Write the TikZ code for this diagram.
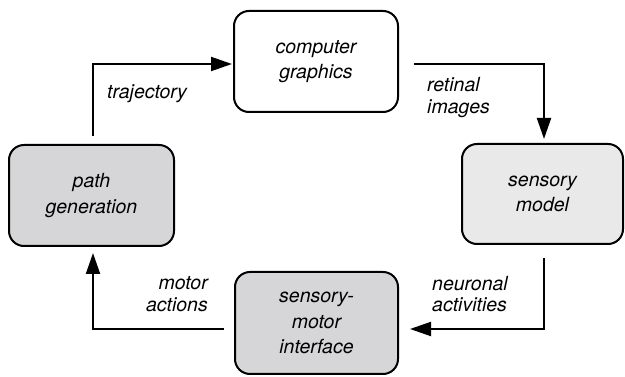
\documentclass[tikz,border=0pt]{standalone}
\usepackage{fontspec}
\setmainfont{TeX Gyre Heros}
\usetikzlibrary{arrows.meta,calc}
\definecolor{boxgray}{HTML}{D6D6D8}
\definecolor{boxlight}{HTML}{E9E9EA}
\tikzset{
  blockbox/.style={draw=black, line width=2pt, rounded corners=15pt, align=center,
    font=\fontsize{19.5}{25.5}\selectfont\itshape, inner sep=0pt},
  flow/.style={draw=black, line width=2pt, -{Triangle[length=21pt,width=14pt]}},
  lbl/.style={font=\fontsize{19.5}{21.5}\selectfont\itshape, inner sep=0pt},
}
\begin{document}
\begin{tikzpicture}[x=1pt,y=-1pt]
\useasboundingbox (0,0) rectangle (625,377);
\node[blockbox, minimum width=164pt, minimum height=101pt] (cg) at (316,61.5) {computer\\graphics};
\node[blockbox, fill=boxgray, minimum width=165pt, minimum height=101pt] (pg) at (91.5,195.5) {path\\generation};
\node[blockbox, fill=boxlight, minimum width=161pt, minimum height=100pt] (sm) at (542.5,194) {sensory\\model};
\node[blockbox, fill=boxgray, minimum width=163pt, minimum height=102pt] (smi) at (316.5,323) {sensory-\\motor\\interface};

\coordinate (t0) at ($(pg.north)+(1.5,-8)$);
\coordinate (t1) at ($(cg.west)+(-1,2.5)$);
\coordinate (r0) at ($(cg.east)+(15,2.5)$);
\coordinate (r1) at ($(sm.north)+(1.5,-4)$);
\coordinate (n0) at ($(sm.south)+(1.5,13)$);
\coordinate (n1) at ($(smi.east)+(11,6)$);
\coordinate (m0) at ($(smi.west)+(-10,6)$);
\coordinate (m1) at ($(pg.south)+(1.5,6)$);

\draw[flow] (t0) |- (t1);
\draw[flow] (r0) -| (r1);
\draw[flow] (n0) |- (n1);
\draw[flow] (m0) -| (m1);

\node[lbl, anchor=base west] (ltraj) at (107,99) {trajectory};
\node[lbl, anchor=west, align=left] (lret) at (427,97.5) {retinal\\images};
\node[lbl, anchor=east, align=right] (lmot) at (208,294) {motor\\actions};
\node[lbl, anchor=west, align=left] (lneu) at (432,294) {neuronal\\activities};
\end{tikzpicture}
\end{document}
